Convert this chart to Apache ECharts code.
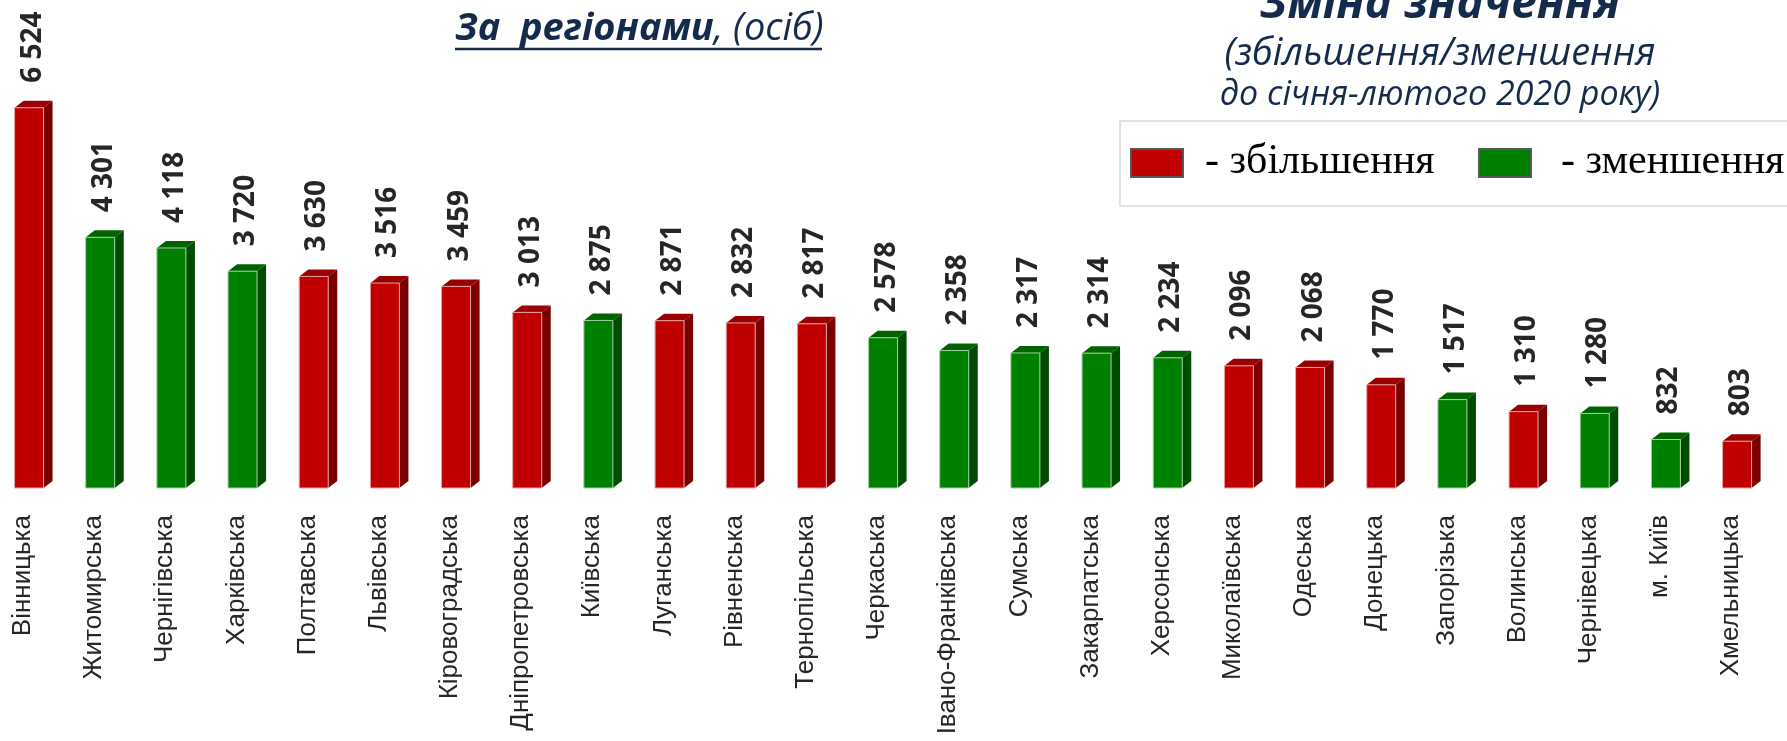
<!DOCTYPE html>
<html>
<head>
<meta charset="utf-8">
<script src="https://cdn.jsdelivr.net/npm/echarts@6/dist/echarts.min.js"></script>
<style>
  html, body { margin: 0; padding: 0; background: #fff; }
  #chart { width: 1787px; height: 741px; }
</style>
</head>
<body>
<div id="chart"></div>
<script>
// регіони, кількість осіб, напрям зміни відносно січня-лютого 2020
const regions = ['Вінницька', 'Житомирська', 'Чернігівська', 'Харківська', 'Полтавська', 'Львівська',
  'Кіровоградська', 'Дніпропетровська', 'Київська', 'Луганська', 'Рівненська', 'Тернопільська',
  'Черкаська', 'Івано-Франківська', 'Сумська', 'Закарпатська', 'Херсонська', 'Миколаївська',
  'Одеська', 'Донецька', 'Запорізька', 'Волинська', 'Чернівецька', 'м. Київ', 'Хмельницька']
const values = [6524, 4301, 4118, 3720, 3630, 3516, 3459, 3013, 2875, 2871, 2832, 2817,
  2578, 2358, 2317, 2314, 2234, 2096, 2068, 1770, 1517, 1310, 1280, 832, 803]
const changes = ['up', 'down', 'down', 'down', 'up', 'up', 'up', 'up', 'down', 'up', 'up', 'up',
  'down', 'down', 'down', 'down', 'down', 'up', 'up', 'up', 'down', 'up', 'down', 'down', 'up']
const yTicks = [0, 7000]

const palette = {
  up: {front: '#C00000', side: '#7A0000', top: '#9A0000', edge: '#E7A3A3'},
  down: {front: '#008000', side: '#004C00', top: '#006300', edge: '#9FD09F'}
}
const navy = '#142B4C'

const fmt = (v) => String(v).replace(/\B(?=(\d{3})+(?!\d))/g, ' ')

const chart = echarts.init(document.getElementById('chart'))

const option = {
  animation: false,
  backgroundColor: '#fff',
  grid: {left: -12.6, width: 1779.2, top: 80, bottom: 253, outerBoundsMode: 'none', containLabel: false},
  xAxis: {
    type: 'category',
    data: regions,
    axisLine: {show: false},
    axisTick: {show: false},
    axisLabel: {
      interval: 0,
      rotate: 90,
      margin: 27,
      fontSize: 26,
      fontFamily: 'Liberation Sans',
      color: '#262626'
    }
  },
  yAxis: {
    type: 'value',
    min: yTicks[0],
    max: yTicks[1],
    show: false,
    splitLine: {show: false}
  },
  series: [{
    type: 'custom',
    encode: {x: 0, y: 1},
    data: values.map((v, i) => [i, v]),
    renderItem: (params, api) => {
      const i = params.dataIndex
      const top = api.coord([api.value(0), api.value(1)])
      const base = api.coord([api.value(0), 0])
      const band = api.size([1, 0])[0]
      const w = band * 0.4075
      const cx = top[0] + band * 0.085
      const x0 = cx - w / 2
      const x1 = cx + w / 2
      const dx = band * 0.127
      const dy = 7
      const pal = palette[changes[i]]
      return {
        type: 'group',
        children: [
          {
            type: 'polygon',
            shape: {points: [[x1, top[1]], [x1 + dx, top[1] - dy], [x1 + dx, base[1] - dy], [x1, base[1]]]},
            style: {fill: pal.side}
          },
          {
            type: 'polygon',
            shape: {points: [[x0, top[1]], [x0 + dx, top[1] - dy], [x1 + dx, top[1] - dy], [x1, top[1]]]},
            style: {fill: pal.top}
          },
          {
            type: 'rect',
            shape: {x: x0, y: top[1], width: w, height: base[1] - top[1]},
            style: {fill: pal.front, stroke: pal.edge, lineWidth: 1}
          },
          {
            type: 'text',
            x: cx + 3.5,
            y: top[1] - 25,
            rotation: Math.PI / 2,
            style: {
              text: fmt(values[i]),
              align: 'left',
              verticalAlign: 'middle',
              fontSize: 28,
              fontWeight: 'bold',
              fontFamily: 'Open Sans',
              fill: '#262626'
            }
          }
        ]
      }
    }
  }],
  graphic: [
    // заголовок зліва
    {
      type: 'text',
      left: 455,
      top: 10,
      style: {
        text: '{b|За  регіонами}{n|, (осіб)}',
        rich: {
          b: {fontSize: 38, fontWeight: 'bold', fontStyle: 'italic', fontFamily: 'Open Sans', fill: navy},
          n: {fontSize: 38, fontStyle: 'italic', fontFamily: 'Open Sans', fill: navy}
        }
      }
    },
    {
      type: 'line',
      shape: {x1: 455, y1: 49, x2: 822, y2: 49},
      style: {stroke: navy, lineWidth: 2.5}
    },
    // заголовок справа
    {
      type: 'text',
      x: 1440,
      y: 28,
      style: {
        text: 'Зміна значення',
        align: 'center',
        verticalAlign: 'bottom',
        fontSize: 46,
        fontWeight: 'bold',
        fontStyle: 'italic',
        fontFamily: 'Open Sans',
        fill: navy
      }
    },
    {
      type: 'text',
      x: 1440,
      y: 54,
      style: {
        text: '(збільшення/зменшення',
        align: 'center',
        verticalAlign: 'middle',
        fontSize: 38,
        fontStyle: 'italic',
        fontFamily: 'Open Sans',
        fill: navy
      }
    },
    {
      type: 'text',
      x: 1440,
      y: 95,
      style: {
        text: 'до січня-лютого 2020 року)',
        align: 'center',
        verticalAlign: 'middle',
        fontSize: 34,
        fontStyle: 'italic',
        fontFamily: 'Open Sans',
        fill: navy
      }
    },
    // легенда
    {
      type: 'rect',
      shape: {x: 1120, y: 121, width: 720, height: 85},
      style: {fill: '#fff', stroke: '#D9D9D9', lineWidth: 1.5}
    },
    {
      type: 'rect',
      shape: {x: 1131, y: 149, width: 52, height: 28},
      style: {fill: palette.up.front, stroke: '#595959', lineWidth: 2}
    },
    {
      type: 'text',
      x: 1205,
      y: 162,
      style: {text: '- збільшення', verticalAlign: 'middle', fontSize: 42, fontFamily: 'Liberation Serif', fill: '#000'}
    },
    {
      type: 'rect',
      shape: {x: 1479, y: 149, width: 52, height: 28},
      style: {fill: palette.down.front, stroke: '#595959', lineWidth: 2}
    },
    {
      type: 'text',
      x: 1561,
      y: 162,
      style: {text: '- зменшення', verticalAlign: 'middle', fontSize: 42, fontFamily: 'Liberation Serif', fill: '#000'}
    }
  ]
}

chart.setOption(option)
</script>
</body>
</html>
